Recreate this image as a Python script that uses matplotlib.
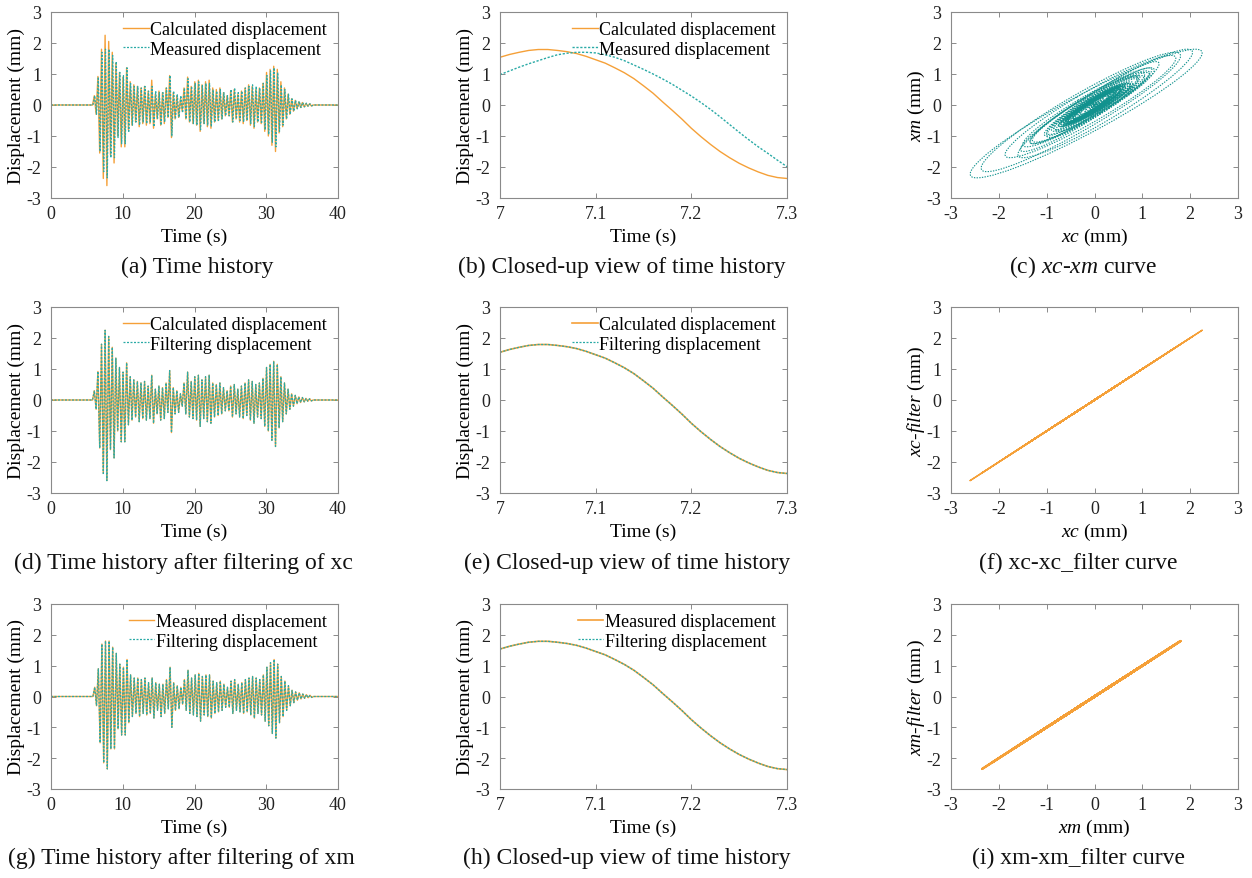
import numpy as np
import matplotlib
matplotlib.use("Agg")
import matplotlib.pyplot as plt
from matplotlib.patches import Ellipse

plt.rcParams['font.family'] = ['Liberation Serif', 'DejaVu Serif']
plt.rcParams['mathtext.fontset'] = 'custom'
plt.rcParams['mathtext.rm'] = 'Liberation Serif'
plt.rcParams['mathtext.it'] = 'Liberation Serif:italic'

# ---------------- data ----------------
# calculated displacement: positive peaks (t = 6.04 + 0.5k) and negative peaks (t = 6.29 + 0.5k)
calc_pos = [0.30, 0.92, 1.80, 2.25, 2.05, 1.70, 1.35, 1.05, 0.90, 1.20,
            0.75, 0.65, 0.60, 0.55, 0.60, 0.45, 0.80, 0.35, 0.45, 0.40,
            0.55, 0.95, 0.40, 0.30, 0.20, 0.55, 0.90, 0.60, 0.75, 0.80,
            0.65, 0.75, 0.80, 0.55, 0.50, 0.55, 0.40, 0.30, 0.45, 0.50,
            0.35, 0.45, 0.55, 0.65, 0.60, 0.50, 0.55, 0.70, 1.05, 1.15,
            1.25, 1.15, 0.75, 0.55, 0.35, 0.20, 0.15, 0.10, 0.08, 0.05, 0.04]
calc_neg = [-0.30, -1.55, -2.37, -2.60, -1.60, -1.87, -1.00, -1.35, -1.35, -0.80,
            -0.65, -0.55, -0.70, -0.60, -0.65, -0.60, -0.75, -0.45, -0.65, -0.60,
            -0.40, -1.05, -0.45, -0.40, -0.20, -0.45, -0.55, -0.60, -0.65, -0.85,
            -0.60, -0.70, -0.75, -0.55, -0.50, -0.45, -0.35, -0.35, -0.55, -0.45,
            -0.55, -0.60, -0.50, -0.65, -0.75, -0.55, -0.60, -0.85, -1.00, -1.30,
            -1.50, -0.90, -0.70, -0.45, -0.30, -0.20, -0.12, -0.08, -0.06, -0.04, -0.03]
# measured displacement peaks (lagging the calculated ones)
meas_pos = [0.30, 0.90, 1.70, 1.80, 1.80, 1.60, 1.40, 1.05, 0.95, 1.20,
            0.70, 0.60, 0.60, 0.55, 0.60, 0.45, 0.60, 0.45, 0.40, 0.40,
            0.55, 0.95, 0.45, 0.35, 0.30, 0.55, 0.85, 0.60, 0.70, 0.75,
            0.65, 0.70, 0.70, 0.50, 0.45, 0.50, 0.40, 0.30, 0.50, 0.55,
            0.40, 0.45, 0.55, 0.60, 0.65, 0.60, 0.55, 0.70, 0.95, 1.10,
            1.20, 1.05, 0.65, 0.50, 0.35, 0.20, 0.15, 0.12, 0.08, 0.06, 0.04]
meas_neg = [-0.30, -1.50, -2.15, -2.35, -1.70, -1.70, -1.05, -1.25, -1.25, -0.85,
            -0.65, -0.55, -0.65, -0.55, -0.60, -0.55, -0.70, -0.45, -0.65, -0.55,
            -0.40, -1.00, -0.45, -0.40, -0.25, -0.45, -0.55, -0.60, -0.65, -0.80,
            -0.60, -0.65, -0.70, -0.55, -0.50, -0.45, -0.35, -0.35, -0.55, -0.45,
            -0.50, -0.55, -0.50, -0.60, -0.70, -0.55, -0.60, -0.80, -0.95, -1.20,
            -1.35, -0.85, -0.65, -0.45, -0.30, -0.20, -0.12, -0.08, -0.06, -0.04, -0.03]
first_peak_time = 6.04   # s
half_period = 0.25       # s
meas_lag = 0.055         # s
record_end = 40.0        # s

# close-up 7.0 - 7.3 s, 0.01 s step
close_t0, close_dt = 7.00, 0.01
calc_close = [1.54, 1.63, 1.70, 1.76, 1.79, 1.79, 1.76, 1.72, 1.66, 1.57,
              1.46, 1.35, 1.20, 1.04, 0.85, 0.62, 0.38, 0.10, -0.17, -0.45,
              -0.75, -1.02, -1.27, -1.50, -1.70, -1.88, -2.03, -2.16, -2.27, -2.34, -2.37]
meas_close = [0.98, 1.10, 1.22, 1.33, 1.43, 1.53, 1.62, 1.67, 1.70, 1.70,
              1.68, 1.62, 1.54, 1.43, 1.29, 1.15, 1.00, 0.84, 0.67, 0.48,
              0.29, 0.08, -0.14, -0.38, -0.63, -0.88, -1.12, -1.35, -1.56, -1.78, -1.99]

ORANGE = '#F5A038'
TEAL = '#2AAAA6'
TEAL_DARK = '#11928E'
SPINE = '#8a8a8a'

def series(pos, neg, t_shift):
    vals = []
    for p, n in zip(pos, neg):
        vals += [p, n]
    vals = np.array(vals)
    t = first_peak_time + t_shift + half_period * np.arange(len(vals))
    t = np.concatenate([[0.0, t[0] - half_period], t, [t[-1] + half_period, record_end]])
    v = np.concatenate([[0.0, 0.0], vals, [0.0, 0.0]])
    return t, v

t_calc, x_calc = series(calc_pos, calc_neg, 0.0)
t_meas, x_meas = series(meas_pos, meas_neg, meas_lag)
t_close = close_t0 + close_dt * np.arange(len(calc_close))

# ---------------- figure ----------------
W, H = 1252, 879
fig = plt.figure(figsize=(W / 100, H / 100), dpi=100)

cols = [51, 500, 951]
rows = [(13, 199), (308, 494), (605, 790)]
axw = 287

def make_ax(c, r):
    top, bot = rows[r]
    hpx = bot - top
    ax = fig.add_axes([cols[c] / W, 1 - bot / H, axw / W, hpx / H])
    for s in ax.spines.values():
        s.set_color(SPINE)
        s.set_linewidth(0.8)
    ax.tick_params(direction='in', top=True, right=True, length=3.5, width=0.7,
                   color=SPINE, labelsize=13, labelcolor='#222222')
    ax.tick_params(axis='x', pad=5)
    ax.tick_params(axis='y', pad=7)
    ax.set_ylim(-3, 3)
    ax.set_yticks([-3, -2, -1, 0, 1, 2, 3])
    ax.set_yticklabels(['-3', '-2', '-1', '0', '1', '2', '3'])
    ax.xaxis.set_label_coords(0.5, -38 / hpx)
    ax.xaxis.label.set_va('center')
    ax.yaxis.set_label_coords(-35 / axw, 0.5)
    ax.yaxis.label.set_va('center')
    return ax

def legend(ax, labels):
    ax.legend(labels, loc='upper right', bbox_to_anchor=(1.0, 1.01), frameon=False,
              fontsize=13, handlelength=1.4, handletextpad=0.1, labelspacing=0.15,
              borderaxespad=0.2)

def time_ax(ax):
    ax.set_xlim(0, 40)
    ax.set_xticks([0, 10, 20, 30, 40])
    ax.set_xlabel('Time (s)', fontsize=14)
    ax.set_ylabel('Displacement (mm)', fontsize=14)

def close_ax(ax):
    ax.set_xlim(7, 7.3)
    ax.set_xticks([7, 7.1, 7.2, 7.3])
    ax.set_xticklabels(['7', '7.1', '7.2', '7.3'])
    ax.set_xlabel('Time (s)', fontsize=14)
    ax.set_ylabel('Displacement (mm)', fontsize=14)

def xy_ax(ax):
    ax.set_xlim(-3, 3)
    ax.set_xticks([-3, -2, -1, 0, 1, 2, 3])
    ax.set_xticklabels(['-3', '-2', '-1', '0', '1', '2', '3'])

dash = (0, (1.6, 1.2))

# (a)
ax = make_ax(0, 0)
ax.plot(t_calc, x_calc, color=ORANGE, lw=1.0)
ax.plot(t_meas, x_meas, color=TEAL, lw=0.9, ls=dash)
time_ax(ax)
legend(ax, ['Calculated displacement', 'Measured displacement'])

# (b)
ax = make_ax(1, 0)
ax.plot(t_close, calc_close, color=ORANGE, lw=1.0)
ax.plot(t_close, meas_close, color=TEAL, lw=1.0, ls=dash)
close_ax(ax)
legend(ax, ['Calculated displacement', 'Measured displacement'])

# (c) xc-xm loops: one ellipse per cycle built from the peak values
ax = make_ax(2, 0)
phi = 2 * np.pi * meas_lag / (4 * half_period)
for p, n, q, r in zip(calc_pos, calc_neg, meas_pos, meas_neg):
    ax_c, ay_c = (p - n) / 2, (q - r) / 2
    A = np.array([[ax_c, 0.0], [ay_c * np.cos(phi), ay_c * np.sin(phi)]])
    U, S, Vt = np.linalg.svd(A)
    ang = np.degrees(np.arctan2(U[1, 0], U[0, 0]))
    ax.add_patch(Ellipse(((p + n) / 2, (q + r) / 2), 2 * S[0], 2 * S[1], angle=ang,
                         fill=False, edgecolor=TEAL_DARK, lw=0.8, ls=(0, (1.2, 1.2))))
xy_ax(ax)
ax.set_xlabel(r'$\mathit{xc}$ (mm)', fontsize=14)
ax.set_ylabel(r'$\mathit{xm}$ (mm)', fontsize=14)

# (d)
ax = make_ax(0, 1)
ax.plot(t_calc, x_calc, color=ORANGE, lw=1.0)
ax.plot(t_calc, x_calc, color=TEAL, lw=0.9, ls=dash)
time_ax(ax)
legend(ax, ['Calculated displacement', 'Filtering displacement'])

# (e)
ax = make_ax(1, 1)
ax.plot(t_close, calc_close, color=ORANGE, lw=1.2)
ax.plot(t_close, calc_close, color=TEAL, lw=0.9, ls=dash)
close_ax(ax)
legend(ax, ['Calculated displacement', 'Filtering displacement'])

# (f)
ax = make_ax(2, 1)
ax.plot(x_calc, x_calc, color=ORANGE, lw=1.0)
xy_ax(ax)
ax.set_xlabel(r'$\mathit{xc}$ (mm)', fontsize=14)
ax.set_ylabel(r'$\mathit{xc}$-$\mathit{filter}$ (mm)', fontsize=14)

# (g)
ax = make_ax(0, 2)
ax.plot(t_meas, x_meas, color=ORANGE, lw=1.0)
ax.plot(t_meas, x_meas, color=TEAL, lw=0.9, ls=dash)
time_ax(ax)
legend(ax, ['Measured displacement', 'Filtering displacement'])

# (h)
ax = make_ax(1, 2)
ax.plot(t_close, calc_close, color=ORANGE, lw=1.2)
ax.plot(t_close, calc_close, color=TEAL, lw=0.9, ls=dash)
close_ax(ax)
legend(ax, ['Measured displacement', 'Filtering displacement'])

# (i)
ax = make_ax(2, 2)
ax.plot(x_meas, x_meas, color=ORANGE, lw=1.6)
xy_ax(ax)
ax.set_xlabel(r'$\mathit{xm}$ (mm)', fontsize=14)
ax.set_ylabel(r'$\mathit{xm}$-$\mathit{filter}$ (mm)', fontsize=14)

# captions
captions = [
    (197, 267, '(a) Time history'),
    (622, 267, '(b) Closed-up view of time history'),
    (1083, 267, r'(c) $\mathit{xc}$-$\mathit{xm}$ curve'),
    (183, 563, '(d) Time history after filtering of xc'),
    (627, 563, '(e) Closed-up view of time history'),
    (1078, 563, '(f) xc-xc_filter curve'),
    (181, 858, '(g) Time history after filtering of xm'),
    (627, 858, '(h) Closed-up view of time history'),
    (1078, 858, '(i) xm-xm_filter curve'),
]
for x, y, s in captions:
    fig.text(x / W, 1 - y / H, s, ha='center', va='center', fontsize=17, color='#111111')

fig.savefig('out.png', dpi=100)
